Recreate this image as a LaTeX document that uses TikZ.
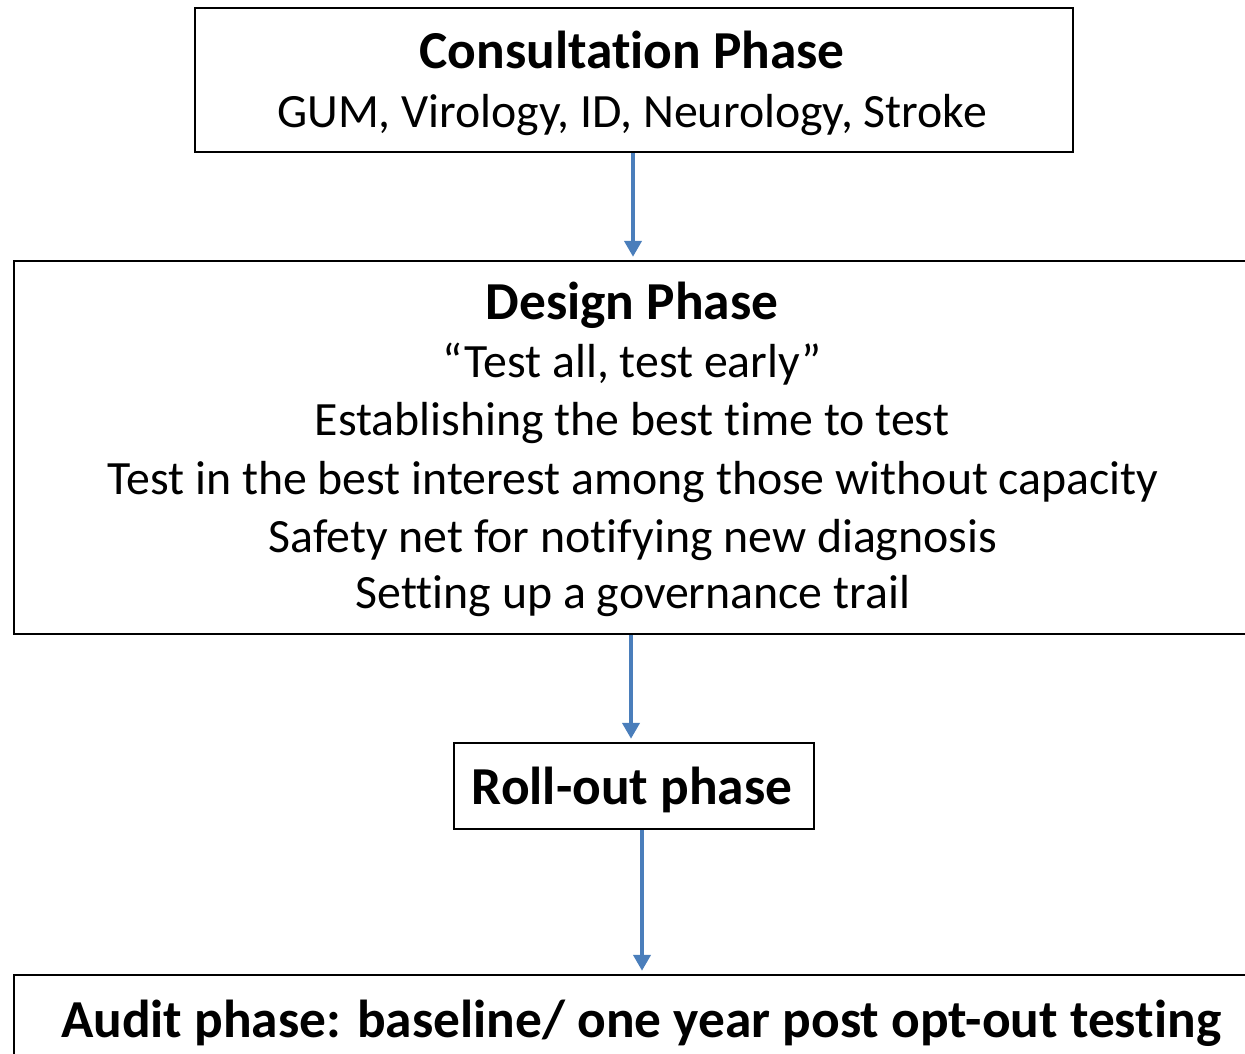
\documentclass[tikz,border=0pt]{standalone}
\usepackage{fontspec}
\setmainfont[Ligatures=NoCommon]{Carlito}
\usetikzlibrary{calc,arrows.meta}
\definecolor{arrowblue}{HTML}{4A7EBB}
\tikzset{
  phasebox/.style={draw=black,line width=1.2pt,rectangle,inner sep=0pt},
  bodytext/.style={font=\fontsize{23.9}{28}\selectfont,inner sep=0pt,anchor=base},
  titletext/.style={font=\fontsize{26.7}{31}\selectfont\bfseries,inner sep=0pt,anchor=base},
  flowarrow/.style={draw=arrowblue,line width=2.2pt,-{Triangle[length=8pt,width=8.5pt]},shorten >=1.5pt}
}
\begin{document}
\begin{tikzpicture}[x=0.5pt,y=-0.5pt]
\useasboundingbox (0,0) rectangle (1245,1053);
\clip (0,0) rectangle (1245,1053);
\node[phasebox,minimum width=439pt,minimum height=72pt] (consult) at (634,80) {};
\node[phasebox,minimum width=619pt,minimum height=186.5pt] (design) at (633,447.5) {};
\node[phasebox,minimum width=180pt,minimum height=43pt] (roll) at (634,786) {};
\node[phasebox,minimum width=627pt,minimum height=70pt] (audit) at (641,1045) {};

\node[titletext] (t1) at (632,69) {Consultation Phase};
\node[bodytext] (t2) at (632,128) {GUM, Virology, ID, Neurology, Stroke};
\node[titletext] (t3) at (632,319) {Design Phase};
\node[bodytext] (t4) at (632,377) {“Test all, test early”};
\node[bodytext] (t5) at (632,435) {Establishing the best time to test};
\node[bodytext] (t6) at (633,494) {Test in the best interest among those without capacity};
\node[bodytext] (t7) at (633,552) {Safety net for notifying new diagnosis};
\node[bodytext] (t8) at (633,608) {Setting up a governance trail};
\node[titletext] (t9) at (632,804) {Roll-out phase};
\node[titletext] (t10) at (641,1037) {Audit phase: baseline/ one year post opt-out testing};

\coordinate (a1s) at ($(consult.south)+(-1,0)$);
\coordinate (a1e) at (a1s |- design.north);
\coordinate (a2s) at ($(design.south)+(-2,0)$);
\coordinate (a2e) at (a2s |- roll.north);
\coordinate (a3s) at ($(roll.south)+(8,0)$);
\coordinate (a3e) at (a3s |- audit.north);
\draw[flowarrow] (a1s) -- (a1e);
\draw[flowarrow] (a2s) -- (a2e);
\draw[flowarrow] (a3s) -- (a3e);
\end{tikzpicture}
\end{document}
